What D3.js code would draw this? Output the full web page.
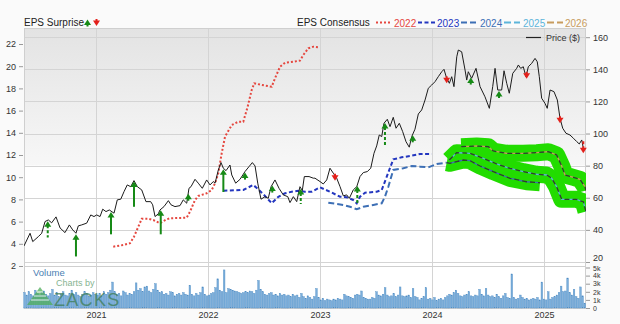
<!DOCTYPE html>
<html><head><meta charset="utf-8">
<script src="https://cdn.jsdelivr.net/npm/d3@7"></script>
<style>
html,body{margin:0;padding:0;background:#fafafa;}
svg{display:block;font-family:"Liberation Sans",Arial,sans-serif;}
</style></head><body>
<svg id="c" width="620" height="324"></svg>
<script>
// ---------- DATA ----------
const years = [2021, 2022, 2023, 2024, 2025];
const epsTicks = [2,4,6,8,10,12,14,16,18,20,22];
const priceTicks = [20,40,60,80,100,120,140,160];
const volTicks = [0,1,2,3,4,5];
const consensusLabels = ["2022","2023","2024","2025","2026"];

// price ($) : [decimal year, price]
const price = [
[2020.357,30.0],[2020.411,37.9],[2020.435,32.7],[2020.485,35.8],[2020.515,37.9],[2020.545,45.2],[2020.574,46.2],[2020.604,44.4],
[2020.643,48.1],[2020.679,41.2],[2020.723,38.3],[2020.762,43.1],[2020.792,40.0],[2020.821,37.9],[2020.842,42.5],[2020.872,43.1],
[2020.917,44.2],[2020.953,49.3],[2020.982,48.3],[2021.006,49.3],[2021.036,48.3],[2021.060,52.9],[2021.089,51.4],[2021.119,52.4],
[2021.161,50.4],[2021.190,58.7],[2021.221,59.1],[2021.250,63.8],[2021.279,68.0],[2021.310,66.9],[2021.339,70.7],[2021.369,66.9],
[2021.408,64.9],[2021.446,57.6],[2021.488,57.6],[2021.506,55.6],[2021.527,48.3],[2021.556,50.0],[2021.571,52.4],[2021.607,54.5],
[2021.646,58.2],[2021.670,55.6],[2021.705,54.5],[2021.750,55.1],[2021.779,58.7],[2021.810,56.6],[2021.830,65.9],[2021.848,66.9],
[2021.884,71.5],[2021.913,69.1],[2021.949,65.9],[2021.988,71.1],[2022.018,68.0],[2022.047,70.1],[2022.063,69.1],[2022.092,77.3],
[2022.116,81.9],[2022.137,78.4],[2022.161,76.9],[2022.196,80.4],[2022.212,74.2],[2022.247,69.1],[2022.286,71.5],[2022.330,76.3],
[2022.366,79.4],[2022.396,81.9],[2022.420,79.8],[2022.444,69.1],[2022.473,59.1],[2022.509,60.7],[2022.538,59.7],[2022.563,66.9],
[2022.598,71.1],[2022.634,65.9],[2022.672,61.8],[2022.712,60.7],[2022.732,57.0],[2022.762,60.7],[2022.792,57.6],[2022.821,66.9],
[2022.842,64.5],[2022.860,73.2],[2022.902,73.2],[2022.940,72.2],[2022.955,72.2],[2023.000,70.1],[2023.029,68.6],[2023.060,71.1],
[2023.089,78.4],[2023.119,75.3],[2023.149,72.2],[2023.179,66.9],[2023.208,61.2],[2023.238,61.8],[2023.262,59.7],[2023.297,64.9],
[2023.328,66.9],[2023.357,73.2],[2023.387,75.7],[2023.422,76.3],[2023.453,78.4],[2023.482,87.7],[2023.506,92.3],[2023.529,99.1],
[2023.551,98.1],[2023.571,106.4],[2023.601,108.9],[2023.625,104.3],[2023.654,110.1],[2023.679,103.3],[2023.708,106.4],[2023.738,101.2],
[2023.768,94.9],[2023.797,91.5],[2023.819,98.1],[2023.848,102.7],[2023.878,112.2],[2023.908,114.7],[2023.938,120.9],[2023.967,128.2],
[2023.997,130.2],[2024.027,132.3],[2024.056,135.4],[2024.087,138.5],[2024.107,140.0],[2024.131,134.4],[2024.155,131.3],[2024.176,135.4],
[2024.196,129.2],[2024.221,147.8],[2024.235,152.0],[2024.265,150.9],[2024.295,139.6],[2024.310,133.3],[2024.324,138.5],[2024.354,134.4],
[2024.393,140.6],[2024.429,129.2],[2024.473,122.9],[2024.512,115.7],[2024.542,129.2],[2024.563,140.6],[2024.587,127.1],[2024.622,127.1],
[2024.643,139.1],[2024.667,131.3],[2024.690,125.1],[2024.721,137.5],[2024.756,140.6],[2024.771,142.7],[2024.792,140.6],[2024.815,141.6],
[2024.839,135.4],[2024.860,141.6],[2024.890,143.7],[2024.920,146.8],[2024.940,144.7],[2024.958,135.4],[2024.979,122.0],[2025.009,118.8],
[2025.029,115.7],[2025.054,127.1],[2025.089,126.1],[2025.119,120.9],[2025.143,109.5],[2025.167,103.3],[2025.196,100.2],[2025.232,99.1],
[2025.262,97.1],[2025.292,95.0],[2025.315,93.5],[2025.337,96.0],[2025.351,90.9]
];

// EPS consensus by fiscal year : [decimal year, EPS]
const eps2022 = [
[2021.154,3.74],[2021.244,3.89],[2021.304,4.05],[2021.339,4.64],[2021.378,5.54],[2021.408,6.26],[2021.467,6.26],[2021.512,6.14],
[2021.571,5.85],[2021.631,6.21],[2021.661,6.30],[2021.810,6.35],[2021.839,6.89],[2021.884,7.95],[2021.913,8.31],[2021.988,8.55],
[2022.033,8.85],[2022.063,9.45],[2022.092,10.35],[2022.122,12.15],[2022.152,13.65],[2022.212,14.70],[2022.271,15.00],[2022.315,15.00],
[2022.354,16.35],[2022.390,17.86],[2022.413,18.46],[2022.479,18.31],[2022.569,18.15],[2022.598,18.91],[2022.643,19.95],[2022.688,20.32],
[2022.762,20.41],[2022.821,20.50],[2022.851,21.01],[2022.895,21.61],[2022.940,21.76],[2022.994,21.70]
];
const eps2023 = [
[2022.137,8.78],[2022.315,8.85],[2022.404,9.30],[2022.449,8.91],[2022.509,8.31],[2022.569,7.65],[2022.628,8.24],[2022.688,8.55],
[2022.747,8.69],[2022.806,8.78],[2022.866,8.69],[2022.926,8.69],[2023.000,9.09],[2023.089,8.69],[2023.179,8.24],[2023.238,8.19],
[2023.297,7.95],[2023.328,7.65],[2023.357,8.24],[2023.402,8.60],[2023.506,8.69],[2023.551,8.85],[2023.596,10.05],[2023.654,11.61],
[2023.729,11.79],[2023.804,11.91],[2023.893,12.09],[2023.997,12.09]
];
const eps2024 = [
[2023.074,7.70],[2023.149,7.59],[2023.208,7.50],[2023.268,7.34],[2023.328,7.11],[2023.387,7.34],[2023.476,7.50],[2023.551,7.65],
[2023.580,8.24],[2023.610,9.14],[2023.654,10.65],[2023.744,10.80],[2023.819,11.01],[2023.893,10.95],[2023.967,10.89],[2024.042,11.19],
[2024.131,11.31],[2024.161,11.25],[2024.280,11.55],[2024.339,11.49],[2024.429,11.01],[2024.547,10.50],[2024.696,9.90],[2024.845,9.59],
[2024.964,9.50]
];
const eps2025 = [
[2024.154,11.55],[2024.220,12.21],[2024.339,12.15],[2024.458,11.70],[2024.578,11.19],[2024.696,10.80],[2024.815,10.50],[2024.935,10.26],
[2025.024,10.20],[2025.069,9.90],[2025.113,9.14],[2025.158,8.01],[2025.203,8.01],[2025.292,8.01],[2025.321,7.88],[2025.351,7.79],
[2025.375,6.90]
];
const eps2026 = [
[2024.260,12.75],[2024.399,12.81],[2024.503,12.75],[2024.547,12.36],[2024.667,12.15],[2024.815,12.15],[2024.935,12.21],[2025.038,12.30],
[2025.113,12.00],[2025.158,11.01],[2025.188,10.20],[2025.262,9.99],[2025.321,9.81],[2025.366,9.14],[2025.375,8.80]
];
const highlightFrom = 2024.131; // start of highlighted (recent) consensus

// EPS surprises: date, surprise (%), dashed stem flag
const surpriseDates = [2020.569,2020.821,2021.134,2021.339,2021.578,2021.824,2022.137,2022.330,2022.574,2022.828,
  2023.134,2023.333,2023.580,2023.828,2024.131,2024.346,2024.598,2024.845,2025.143,2025.351];
const surpriseValues = [27,37,37,42,40,8,38,9,11,25,-8,30,38,11,-7,7,9,-7,-6,-22];
const surpriseDashed = [1,0,0,0,0,0,0,0,0,1,0,1,1,0,0,0,0,0,0,1];

// weekly volume (thousands of shares)
const volStart = 2020.362;
const vol2020 = [1.9,1.6,2.0,1.7,1.5,2.2,1.8,1.6,1.9,2.1,1.7,1.5,1.8,2.3,1.6,1.9,1.4,1.7,2.0,1.6,1.5,1.8,2.2,1.7,1.9,1.6,1.4,1.7,2.0,1.8,1.5,1.6,1.9,1.7];
const vol2021 = [1.6,1.8,1.5,2.0,1.7,1.9,2.2,3.2,2.0,1.7,1.8,1.5,2.1,1.9,1.6,1.8,1.7,2.0,3.1,2.2,2.4,2.0,2.6,2.7,2.1,1.9,2.3,
  3.0,2.2,1.9,2.0,1.7,1.8,1.6,2.0,1.9,1.5,1.7,1.8,1.6,1.9,1.7,1.6,2.8,1.7,1.5,1.8,1.6,1.9,2.6,1.7,1.5];
const vol2022 = [1.6,1.8,1.9,2.5,3.6,2.2,2.0,4.7,1.9,2.4,2.3,2.2,2.1,2.0,1.9,
  1.8,1.9,2.0,1.9,2.1,2.0,1.8,2.2,3.4,2.3,2.0,1.7,1.6,1.8,1.9,1.6,1.7,1.5,1.8,1.6,
  1.7,1.5,1.6,1.4,1.7,1.5,1.6,1.3,1.8,1.4,1.2,1.5,1.3,1.1,1.4,2.4,1.3];
const vol2023 = [1.0,1.2,0.9,1.1,1.0,0.9,1.1,1.0,1.2,1.1,1.0,1.7,1.5,1.4,1.3,1.2,1.6,1.7,1.6,2.1,1.3,1.2,1.1,1.1,1.3,1.2,2.0,1.6,
  1.5,1.7,2.5,1.6,1.4,1.5,1.8,1.4,1.6,2.6,1.5,1.4,1.5,1.6,1.3,2.4,1.4,1.3,1.0,1.2,1.4,2.5,1.1,1.2,1.0];
const vol2024 = [1.3,0.9,1.1,1.2,1.0,1.3,1.5,1.7,1.6,1.9,2.2,1.8,1.5,1.4,1.6,1.7,2.0,1.5,1.4,1.6,1.5,2.3,1.7,1.5,2.4,
  1.6,1.4,1.5,1.3,1.7,1.4,1.2,1.5,1.8,1.3,1.2,4.2,1.3,1.1,1.2,1.6,1.3,1.1,1.2,1.0,1.1,1.2,1.1,1.3,1.0,3.2,1.1];
const vol2025 = [1.0,2.0,1.1,1.3,1.4,1.6,1.9,2.7,2.0,2.1,3.7,1.9,1.6,2.3,1.4,1.2,2.6,1.5,0.6];

// ---------- CHART ----------
const svg = d3.select("#c");
const L = 24, R = 586, T = 28, B = 266, VB = 308;
const x = d3.scaleLinear().domain([2020.357, 2025.375]).range([L, R]);
const yEps = d3.scaleLinear().domain([2, 22]).range([266, 44]);
const yPrice = d3.scaleLinear().domain([20, 160]).range([262, 37.2]);
const yVol = d3.scaleLinear().domain([0, 5]).range([VB, 267.5]);

const defs = svg.append("defs");
const gr = defs.append("linearGradient").attr("id","bg").attr("x1",0).attr("y1",0).attr("x2",0).attr("y2",1);
[[0,"#e3e3e3"],[0.575,"#f7f7f7"],[0.58,"#ffffff"],[1,"#ffffff"]].forEach(s=>gr.append("stop").attr("offset",s[0]).attr("stop-color",s[1]));
defs.append("clipPath").attr("id","clip").append("rect").attr("x",L).attr("y",T).attr("width",R-L).attr("height",B-T);

svg.append("rect").attr("x",L).attr("y",T).attr("width",R-L).attr("height",B-T).attr("fill","url(#bg)");
svg.append("rect").attr("x",L).attr("y",B).attr("width",R-L).attr("height",VB-B).attr("fill","#fff");

// gridlines
const grid = svg.append("g").attr("stroke","#d4d4d4").attr("stroke-width",1);
grid.selectAll(".h").data(priceTicks).join("line")
  .attr("x1",L).attr("x2",R).attr("y1",d=>Math.round(yPrice(d))+0.5).attr("y2",d=>Math.round(yPrice(d))+0.5);
grid.selectAll(".v").data(years).join("line")
  .attr("x1",d=>Math.round(x(d))+0.5).attr("x2",d=>Math.round(x(d))+0.5).attr("y1",T).attr("y2",VB);
svg.append("rect").attr("x",L+0.5).attr("y",T+0.5).attr("width",R-L-1).attr("height",VB-T)
  .attr("fill","none").attr("stroke","#cfcfcf");
svg.append("line").attr("x1",L).attr("x2",R).attr("y1",B+0.5).attr("y2",B+0.5).attr("stroke","#cfcfcf");

// volume bars
const vols = [].concat(vol2020, vol2021, vol2022, vol2023, vol2024, vol2025)
  .map((v,i)=>[volStart + i*7/365.25, v]);
svg.append("g").selectAll("rect").data(vols).join("rect")
  .attr("x",d=>x(d[0])-0.8).attr("width",1.6)
  .attr("y",d=>yVol(d[1])).attr("height",d=>VB-yVol(d[1]))
  .attr("fill","#7aaedb").attr("stroke","#4f8cc3").attr("stroke-width",0.4);

// watermark
const wm = svg.append("g").attr("opacity",0.75);
wm.append("path").attr("d","M27,305 L40,287 L53,305 Z").attr("fill","#4fae5a");
wm.append("path").attr("d","M31,300 L49,300 M34,296 L46,296 M37,292 L43,292").attr("stroke","#fff").attr("stroke-width",1);
wm.append("text").attr("x",56).attr("y",286).attr("font-size",9).attr("fill","#5c9a6c").text("Charts by");
wm.append("text").attr("x",54).attr("y",305.5).attr("font-size",18).attr("letter-spacing",1.3).attr("fill","#3e7d55").text("ZACKS");
svg.append("text").attr("x",33).attr("y",275.5).attr("font-size",9.5).attr("fill","#4a80b2").text("Volume");

// consensus lines
const lineE = d3.line().x(d=>x(d[0])).y(d=>yEps(d[1]));
const plot = svg.append("g").attr("clip-path","url(#clip)");
const styles = {
  "2022": {c:"#e5473f", dash:"2,2", w:2},
  "2023": {c:"#2336bf", dash:"4,2.5", w:2},
  "2024": {c:"#3d6fb5", dash:"6,3", w:2},
  "2025": {c:"#5db5da", dash:"7,3", w:2},
  "2026": {c:"#c79c5e", dash:"7,3", w:2}
};
plot.append("path").attr("d",lineE(eps2022)).attr("fill","none").attr("stroke",styles["2022"].c).attr("stroke-width",2).attr("stroke-dasharray",styles["2022"].dash);
plot.append("path").attr("d",lineE(eps2023)).attr("fill","none").attr("stroke",styles["2023"].c).attr("stroke-width",2).attr("stroke-dasharray",styles["2023"].dash);
plot.append("path").attr("d",lineE(eps2024.filter(d=>d[0]<=highlightFrom))).attr("fill","none").attr("stroke",styles["2024"].c).attr("stroke-width",2).attr("stroke-dasharray",styles["2024"].dash);

// highlighted recent consensus (green bands)
const hl = [eps2024.filter(d=>d[0]>=highlightFrom), eps2025, eps2026];
hl.forEach(s=>plot.append("path").attr("d",lineE(s)).attr("fill","none").attr("stroke","#22dc00").attr("stroke-width",17).attr("stroke-linejoin","round"));
[[hl[0],"2024"],[hl[1],"2025"],[hl[2],"2026"]].forEach(([s,k])=>{
  plot.append("path").attr("d",lineE(s)).attr("fill","none").attr("stroke",styles[k].c).attr("stroke-width",1.3).attr("stroke-dasharray","5,3").attr("stroke-dashoffset",4);
  plot.append("path").attr("d",lineE(s)).attr("fill","none").attr("stroke","#2f3f2f").attr("stroke-width",1.3).attr("stroke-dasharray","5,3");
});

// price line
const lineP = d3.line().x(d=>x(d[0])).y(d=>yPrice(d[1]));
plot.append("path").attr("d",lineP(price)).attr("fill","none").attr("stroke","#1c1c1c").attr("stroke-width",1);

// surprise arrows
const bis = d3.bisector(d=>d[0]).left;
function priceAt(t){
  let i = bis(price,t); if(i<=0) return price[0][1]; if(i>=price.length) return price[price.length-1][1];
  const a=price[i-1], b=price[i]; return a[1]+(b[1]-a[1])*(t-a[0])/(b[0]-a[0]);
}
function arrow(g, cx, tip, len, up, col, dashed){
  const s = up?1:-1;
  g.append("line").attr("x1",cx).attr("x2",cx).attr("y1",tip+s*4).attr("y2",tip+s*len)
    .attr("stroke",col).attr("stroke-width",2).attr("stroke-dasharray",dashed?"3,2":null);
  g.append("path").attr("d",`M${cx-3.5},${tip+s*5.5}L${cx},${tip}L${cx+3.5},${tip+s*5.5}Z`).attr("fill",col);
}
const ag = svg.append("g");
surpriseDates.forEach((t,i)=>{
  const v = surpriseValues[i], up = v>0;
  const py = yPrice(priceAt(t));
  const len = Math.max(7, Math.abs(v)*0.6);
  arrow(ag, x(t), up? py+1 : py+5, len, up, up?"#168a16":"#e3201b", surpriseDashed[i]);
});

// axes
const axL = svg.append("g").attr("transform","translate(23,0)")
  .call(d3.axisLeft(yEps).tickValues(epsTicks).tickSize(4).tickPadding(3));
const axR = svg.append("g").attr("transform",`translate(${R},0)`)
  .call(d3.axisRight(yPrice).tickValues(priceTicks).tickSize(4).tickPadding(3));
const axV = svg.append("g").attr("transform",`translate(${R},0)`)
  .call(d3.axisRight(yVol).tickValues(volTicks).tickSize(4).tickPadding(3).tickFormat(d=>d?d+"k":"0"));
const axB = svg.append("g").attr("transform",`translate(0,${VB})`)
  .call(d3.axisBottom(x).tickValues(years).tickSize(0).tickPadding(3.5).tickFormat(d3.format("d")));
[axL,axR,axV,axB].forEach(a=>{
  a.select(".domain").remove();
  a.selectAll("line").attr("stroke","#999");
  a.selectAll("text").attr("font-size",9).attr("fill","#333").attr("font-family","Liberation Sans, Arial, sans-serif");
});
axV.selectAll("text").attr("font-size",7);
axV.selectAll("text").filter(d=>d===5).attr("dy","0.45em");
axR.selectAll("text").filter(d=>d===20).attr("dy","-0.15em");

// legends
const lg = svg.append("g").attr("font-size",10).attr("fill","#222");
lg.append("text").attr("x",24).attr("y",26).text("EPS Surprise");
arrow(lg, 87.5, 19.5, 7, true, "#168a16", false);
arrow(lg, 96.5, 26, 7, false, "#e3201b", false);
lg.append("text").attr("x",297).attr("y",26).text("EPS Consensus");
const legItems = [
  {k:"2022", x0:376, x1:391, tx:394},
  {k:"2023", x0:418, x1:435, tx:437},
  {k:"2024", x0:461, x1:478, tx:480},
  {k:"2025", x0:504, x1:520, tx:523},
  {k:"2026", x0:547, x1:563, tx:565}
];
legItems.forEach(it=>{
  const st = styles[it.k];
  lg.append("line").attr("x1",it.x0).attr("x2",it.x1).attr("y1",22.5).attr("y2",22.5)
    .attr("stroke",st.c).attr("stroke-width",2).attr("stroke-dasharray",st.dash);
  lg.append("text").attr("x",it.tx).attr("y",26.5).attr("fill",st.c).text(it.k);
});
svg.append("line").attr("x1",526).attr("x2",541).attr("y1",37.5).attr("y2",37.5).attr("stroke","#222").attr("stroke-width",1.2);
svg.append("text").attr("x",546).attr("y",41).attr("font-size",9).attr("fill","#333").text("Price ($)");
</script>
</body></html>
